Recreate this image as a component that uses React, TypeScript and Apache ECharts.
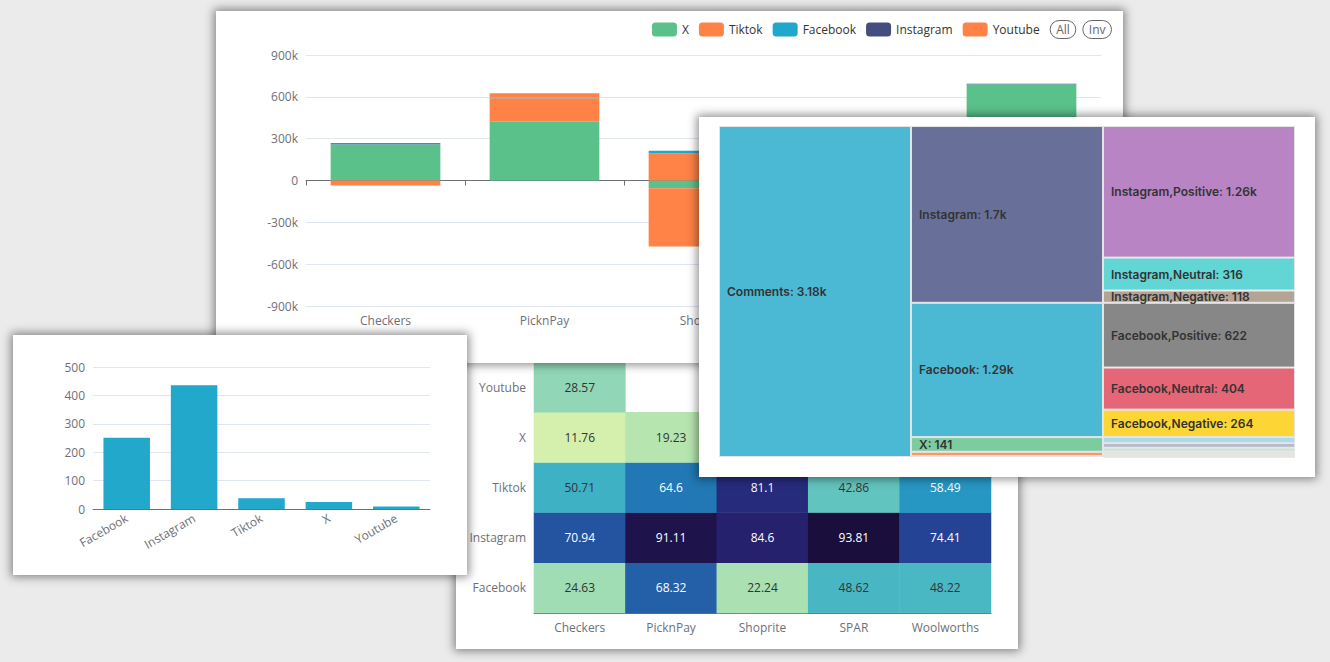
import React, { useEffect, useRef } from "react";
import * as echarts from "echarts";

// ---------- Stacked bar (panel A) ----------
const stores = ["Checkers", "PicknPay", "Shoprite", "SPAR", "Woolworths"];
const platforms = ["X", "Tiktok", "Facebook", "Instagram", "Youtube"];
const xValues = [258000, 422000, -55000, 280000, 688000];
const tiktokValues = [-36000, 168000, 196000, 100000, 0];
const facebookValues = [2000, 3000, 18000, 15000, 3000];
const instagramValues = [7000, 0, 0, 8000, 2000];
const youtubeValues = [0, 33000, -418000, -80000, 0];

// ---------- Simple bar (panel B) ----------
const countCategories = ["Facebook", "Instagram", "Tiktok", "X", "Youtube"];
const countValues = [251, 436, 38, 25, 9];

// ---------- Heatmap (panel C) ----------
const heatRows = ["Facebook", "Instagram", "Tiktok", "X", "Youtube"];
const heatFacebook = [24.63, 68.32, 22.24, 48.62, 48.22];
const heatInstagram = [70.94, 91.11, 84.6, 93.81, 74.41];
const heatTiktok = [50.71, 64.6, 81.1, 42.86, 58.49];
const heatX = [11.76, 19.23, 26.4, 31.25, 16.67];
const heatYoutube = [28.57, null, 37.5, null, 33.33];

// ---------- Icicle (panel D) ----------
const rootName = "Comments";
const platformNodes = ["Instagram", "Facebook", "X", "Tiktok", "Youtube"];
const platformTotals = [1698, 1290, 141, 41, 9];
const sentiments = ["Positive", "Neutral", "Negative"];
const instagramSentiment = [1264, 316, 118];
const facebookSentiment = [622, 404, 264];
const xSentiment = [58, 44, 39];
const tiktokSentiment = [22, 12, 7];
const youtubeSentiment = [5, 3, 1];

// ---------- styles ----------
const FONT = "'Open Sans', sans-serif";
const AXIS_GREY = "#6e7079";
const platformColors: Record<string, string> = {
  X: "#5ac18b",
  Tiktok: "#ff8247",
  Facebook: "#21a7cb",
  Instagram: "#444e7e",
  Youtube: "#ff8247",
};
const icicleRootColor = "#4bb8d4";
const iciclePlatformColors = ["#68709a", "#4bb8d4", "#7dcca0", "#ff9464", "#f6b37c"];
const icicleLeafColors = [
  ["#b884c3", "#62d5d5", "#b4a496"],
  ["#878787", "#e56676", "#fdd535"],
  ["#a9dcea", "#b3b6cc", "#c6e8d0"],
  ["#f9c4b1", "#eed3d8", "#dedede"],
  ["#f3d6c4", "#e2dce6", "#d8e8e0"],
];

const fmtK = (v: number) =>
  v >= 1000 ? parseFloat((v / 1000).toPrecision(3)) + "k" : String(v);

const stackedOption = {
  animation: false,
  textStyle: { fontFamily: FONT },
  legend: {
    data: platforms,
    right: 6,
    top: 4,
    itemWidth: 25,
    itemHeight: 14,
    itemGap: 10,
    textStyle: { color: "#333", fontSize: 12, fontFamily: FONT },
    selector: [
      { type: "all", title: "All" },
      { type: "inverse", title: "Inv" },
    ],
    selectorItemGap: 6,
    selectorButtonGap: 10,
    selectorLabel: { fontFamily: FONT, fontSize: 12, padding: [3, 6, 3, 6], color: "#666", borderColor: "#666" },
  },
  grid: { left: 90, right: 22, top: 44, bottom: 57 },
  xAxis: [
    {
      type: "category",
      data: stores,
      position: "bottom",
      axisLine: { onZero: true, lineStyle: { color: AXIS_GREY } },
      axisTick: { show: true },
      axisLabel: { show: false },
    },
    {
      type: "category",
      data: stores,
      position: "bottom",
      axisLine: { show: false, onZero: false },
      axisTick: { show: false },
      axisLabel: { show: true, color: AXIS_GREY, fontSize: 12, fontFamily: FONT },
    },
  ],
  yAxis: {
    type: "value",
    min: -900000,
    max: 900000,
    interval: 300000,
    axisLabel: {
      color: AXIS_GREY,
      fontSize: 12,
      fontFamily: FONT,
      formatter: (v: number) => (v === 0 ? "0" : v / 1000 + "k"),
    },
    splitLine: { lineStyle: { color: "#e0e6f1" } },
  },
  series: [
    [platforms[0], xValues],
    [platforms[1], tiktokValues],
    [platforms[2], facebookValues],
    [platforms[3], instagramValues],
    [platforms[4], youtubeValues],
  ].map(([name, vals]) => ({
    type: "bar",
    name,
    stack: "total",
    barWidth: "69%",
    xAxisIndex: 0,
    data: vals,
    itemStyle: { color: platformColors[name as string] },
  })),
};

const countOption = {
  animation: false,
  textStyle: { fontFamily: FONT },
  grid: { left: 80, right: 37, top: 32, bottom: 66 },
  xAxis: {
    type: "category",
    data: countCategories,
    axisLine: { lineStyle: { color: AXIS_GREY } },
    axisLabel: { rotate: 30, interval: 0, color: AXIS_GREY, fontSize: 12, fontFamily: FONT },
  },
  yAxis: {
    type: "value",
    min: 0,
    max: 500,
    interval: 100,
    axisLabel: { color: AXIS_GREY, fontSize: 12, fontFamily: FONT },
    splitLine: { lineStyle: { color: "#e0e6f1" } },
  },
  series: [
    {
      type: "bar",
      data: countValues,
      barCategoryGap: "31%",
      itemStyle: { color: "#21a8cb" },
    },
  ],
};

const heatMatrix = [heatFacebook, heatInstagram, heatTiktok, heatX, heatYoutube];
const heatData: any[] = [];
heatMatrix.forEach((row, yi) =>
  row.forEach((v, xi) => {
    if (v === null) return;
    heatData.push({
      value: [xi, yi, v],
      label: { color: v > 55 ? "#ffffff" : "#333333" },
    });
  })
);

const heatOption = {
  animation: false,
  textStyle: { fontFamily: FONT },
  grid: { left: 78, right: 27, top: 60, bottom: 36 },
  xAxis: {
    type: "category",
    data: stores,
    axisLine: { lineStyle: { color: AXIS_GREY } },
    axisLabel: { color: AXIS_GREY, fontSize: 12, fontFamily: FONT },
  },
  yAxis: {
    type: "category",
    data: heatRows,
    axisLine: { lineStyle: { color: AXIS_GREY } },
    axisLabel: { color: AXIS_GREY, fontSize: 12, fontFamily: FONT },
  },
  visualMap: {
    show: false,
    min: 10,
    max: 95,
    dimension: 2,
    inRange: {
      color: [
        "#dcf2ac",
        "#b9e6ae",
        "#96d8b6",
        "#7ccfbb",
        "#5ec2bf",
        "#36adc7",
        "#1f8ec0",
        "#2459a4",
        "#26338a",
        "#261c64",
        "#180d36",
      ],
    },
  },
  series: [
    {
      type: "heatmap",
      data: heatData,
      label: { show: true, fontSize: 12, fontFamily: FONT },
      emphasis: { disabled: true },
    },
  ],
};

const sentimentMatrix = [
  instagramSentiment,
  facebookSentiment,
  xSentiment,
  tiktokSentiment,
  youtubeSentiment,
];
const rootTotal = platformTotals.reduce((a, b) => a + b, 0);
const icicleSeries: any[] = [];
const addNode = (name: string, value: number, depth: number, color: string) => {
  const data: any[] = ["-", "-", "-"];
  data[depth] = value;
  icicleSeries.push({
    type: "bar",
    name,
    stack: "icicle",
    barWidth: "100%",
    data,
    itemStyle: { color, borderColor: "#e4e4e4", borderWidth: 1 },
    label: {
      show: value >= 100,
      position: "insideLeft",
      distance: 8,
      color: "#333",
      fontFamily: "Inter, sans-serif",
      fontWeight: 600,
      fontSize: 12,
      formatter: () => `${name}: ${fmtK(value)}`,
    },
    emphasis: { disabled: true },
  });
};
addNode(rootName, rootTotal, 0, icicleRootColor);
platformNodes.forEach((p, i) => addNode(p, platformTotals[i], 1, iciclePlatformColors[i]));
platformNodes.forEach((p, i) =>
  sentiments.forEach((s, j) =>
    addNode(`${p},${s}`, sentimentMatrix[i][j], 2, icicleLeafColors[i][j])
  )
);

const icicleOption = {
  animation: false,
  grid: { left: 20, right: 20, top: 9, bottom: 20 },
  xAxis: { type: "category", data: ["0", "1", "2"], show: false },
  yAxis: { type: "value", inverse: true, min: 0, max: rootTotal, show: false },
  series: icicleSeries,
};

function Panel({ box, option, z }: { box: any; option: any; z: number }) {
  const ref = useRef<HTMLDivElement>(null);
  useEffect(() => {
    const chart = echarts.init(ref.current!, null, { renderer: "svg" });
    chart.setOption(option);
    return () => chart.dispose();
  }, []);
  return (
    <div
      style={{
        position: "absolute",
        background: "#ffffff",
        boxShadow: "0 0 9px 2px rgba(0,0,0,0.45)",
        zIndex: z,
        ...box,
      }}
    >
      <div ref={ref} style={{ width: "100%", height: "100%" }} />
    </div>
  );
}

export default function App() {
  return (
    <div
      style={{
        position: "fixed",
        left: 0,
        top: 0,
        width: 1330,
        height: 662,
        background: "#ebebeb",
        overflow: "hidden",
      }}
    >
      <Panel z={1} box={{ left: 456, top: 302, width: 562, height: 347 }} option={heatOption} />
      <Panel z={2} box={{ left: 216, top: 11, width: 907, height: 352 }} option={stackedOption} />
      <Panel z={3} box={{ left: 13, top: 335, width: 454, height: 240 }} option={countOption} />
      <Panel z={4} box={{ left: 699, top: 117, width: 616, height: 360 }} option={icicleOption} />
    </div>
  );
}
